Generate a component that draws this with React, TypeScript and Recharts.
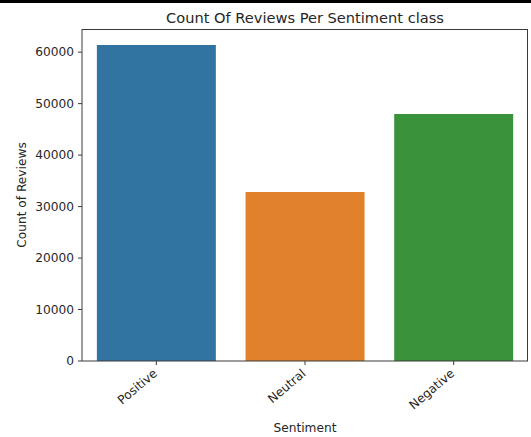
import { BarChart, Bar, XAxis, YAxis, Cell } from "recharts";

// values
const categories = ["Positive", "Neutral", "Negative"];
const reviewCounts = [61400, 32850, 48000];
const barColors = ["#3274a1", "#e1812c", "#3a923a"];
const yTicks = [0, 10000, 20000, 30000, 40000, 50000, 60000];

const FONT = "DejaVu Sans, sans-serif";
const TEXT = "#262626";
const SPINE = "#3a3a3a";

const chartData = categories.map((name, i) => ({ name, count: reviewCounts[i] }));

function RotatedTick(props: any) {
  const { x, y, payload } = props;
  const ax = x - 4;
  return (
    <text
      x={ax}
      y={y}
      transform={`rotate(-40 ${ax} ${y})`}
      textAnchor="end"
      dominantBaseline="hanging"
      fontSize={12.2}
      fontFamily={FONT}
      fill={TEXT}
    >
      {payload.value}
    </text>
  );
}

export default function App() {
  return (
    <div style={{ position: "absolute", left: 0, top: 0, width: 531, height: 437, background: "#fff" }}>
      <div style={{ position: "absolute", left: 0, top: 0, width: 531, height: 3, background: "#000" }} />
      <div
        style={{
          position: "absolute",
          left: 82,
          top: 9,
          width: 446,
          textAlign: "center",
          fontFamily: FONT,
          fontSize: 14.6,
          color: TEXT,
          lineHeight: "18px",
          whiteSpace: "nowrap",
        }}
      >
        Count Of Reviews Per Sentiment class
      </div>
      <BarChart
        width={531}
        height={437}
        data={chartData}
        margin={{ top: 29, right: 3, left: 0, bottom: 0 }}
        barCategoryGap="10%"
      >
        <XAxis
          dataKey="name"
          height={76}
          interval={0}
          tick={<RotatedTick />}
          tickSize={4}
          tickMargin={3}
          tickLine={{ stroke: SPINE }}
          axisLine={{ stroke: SPINE }}
          label={{
            content: () => (
              <text
                x={305}
                y={428}
                textAnchor="middle"
                dominantBaseline="central"
                fontSize={12.2}
                fontFamily={FONT}
                fill={TEXT}
              >
                Sentiment
              </text>
            ),
          }}
        />
        <YAxis
          width={82}
          domain={[0, 64500]}
          ticks={yTicks}
          interval={0}
          tickSize={4}
          tickMargin={4}
          tickLine={{ stroke: SPINE }}
          axisLine={{ stroke: SPINE }}
          tick={{ fontSize: 12.2, fontFamily: FONT, fill: TEXT }}
          label={{
            content: () => (
              <text
                x={22}
                y={195}
                transform="rotate(-90 22 195)"
                textAnchor="middle"
                dominantBaseline="central"
                fontSize={12.2}
                fontFamily={FONT}
                fill={TEXT}
              >
                Count of Reviews
              </text>
            ),
          }}
        />
        <Bar dataKey="count" isAnimationActive={false}>
          {chartData.map((entry, index) => (
            <Cell key={`cell-${entry.name}`} fill={barColors[index]} />
          ))}
        </Bar>
      </BarChart>
      {/* top and right spines of the axes box */}
      <div
        style={{
          position: "absolute",
          left: 82,
          top: 29,
          width: 446,
          height: 332,
          borderTop: `1px solid ${SPINE}`,
          borderRight: `1px solid ${SPINE}`,
          boxSizing: "border-box",
          pointerEvents: "none",
        }}
      />
    </div>
  );
}
